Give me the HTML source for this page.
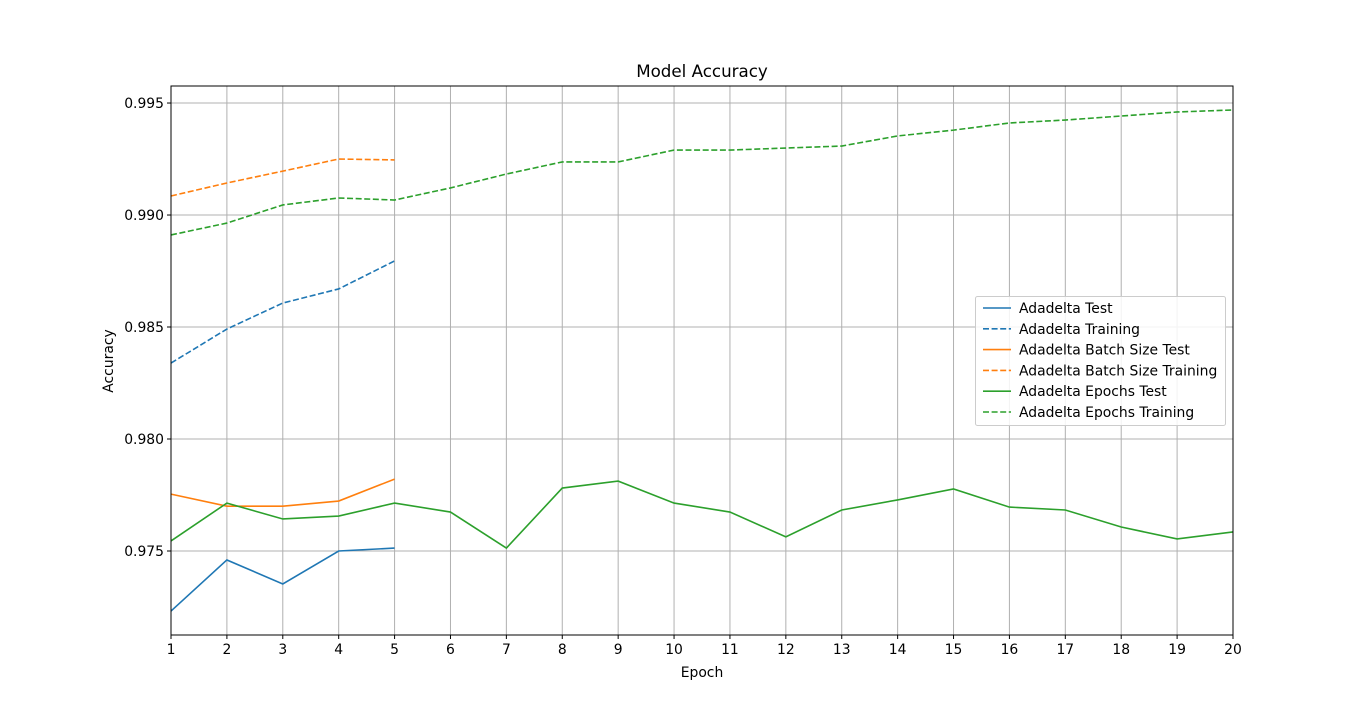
<!DOCTYPE html>
<html><head><meta charset="utf-8"><style>
html,body{margin:0;padding:0;background:#fff;}
svg{display:block;font-family:"DejaVu Sans","Liberation Sans",sans-serif;}
</style></head><body>
<svg id="chart" width="1370" height="715">
<rect x="0" y="0" width="1370" height="715" fill="#fff"/>
<g id="grid"></g>
<g id="series"></g>
<rect x="171" y="86" width="1062" height="549" fill="none" stroke="#000" stroke-width="1"/>
<g id="axes"></g>
<text x="702" y="77" text-anchor="middle" font-size="16.7">Model Accuracy</text>
<text x="702" y="677" text-anchor="middle" font-size="13.9">Epoch</text>
<text x="113" y="361" text-anchor="middle" font-size="13.9" transform="rotate(-90 113 361)">Accuracy</text>
<g id="legend"></g>
</svg>
<script>
const epochs=[1,2,3,4,5,6,7,8,9,10,11,12,13,14,15,16,17,18,19,20];
const yTicks=[0.975,0.980,0.985,0.990,0.995];
const yTickLabels=["0.975","0.980","0.985","0.990","0.995"];
const adadeltaTest=[0.97232,0.97460,0.97353,0.97500,0.97513];
const adadeltaTrain=[0.98339,0.98491,0.98607,0.98670,0.98795];
const batchTest=[0.97754,0.97700,0.97700,0.97723,0.97821];
const batchTrain=[0.99085,0.99143,0.99196,0.99250,0.99246];
const epochsTest=[0.97545,0.97714,0.97643,0.97656,0.97714,0.97674,0.97513,0.97781,0.97812,0.97714,0.97674,0.97563,0.97683,0.97728,0.97777,0.97696,0.97683,0.97607,0.97554,0.97585];
const epochsTrain=[0.98911,0.98964,0.99045,0.99076,0.99067,0.99121,0.99183,0.99237,0.99237,0.99290,0.99290,0.99299,0.99308,0.99353,0.99379,0.99411,0.99424,0.99442,0.99460,0.99469];
const legendLabels=["Adadelta Test","Adadelta Training","Adadelta Batch Size Test","Adadelta Batch Size Training","Adadelta Epochs Test","Adadelta Epochs Training"];

const NS="http://www.w3.org/2000/svg";
const X0=171,X1=1233,Y0=635,Y1=86;
const xMin=1,xMax=20,yMin=0.97125,yMax=0.99576;
function sx(v){return X0+(v-xMin)/(xMax-xMin)*(X1-X0);}
function sy(v){return Y0-(v-yMin)/(yMax-yMin)*(Y0-Y1);}
function mk(tag,attrs,parent){const e=document.createElementNS(NS,tag);for(const k in attrs)e.setAttribute(k,attrs[k]);parent.appendChild(e);return e;}
const grid=document.getElementById('grid'),axes=document.getElementById('axes'),ser=document.getElementById('series'),leg=document.getElementById('legend');
epochs.forEach(function(e){
  const x=sx(e);
  const g=mk('line',{x1:x,x2:x,y1:Y1,y2:Y0,stroke:'#b0b0b0','stroke-width':1},grid);
  
  
  const t=mk('line',{x1:x,x2:x,y1:Y0,y2:Y0+4,stroke:'#000'},axes);
  
  
  const l=mk('text',{x:x,y:Y0+19,'text-anchor':'middle','font-size':13.9},axes);
  l.textContent=String(e);
  
  
});
yTicks.forEach(function(v,i){
  const y=sy(v);
  const g=mk('line',{x1:X0,x2:X1,y1:y,y2:y,stroke:'#b0b0b0','stroke-width':1},grid);
  
  
  const t=mk('line',{x1:X0-4,x2:X0,y1:y,y2:y,stroke:'#000'},axes);
  
  
  const l=mk('text',{x:X0-7,y:y+5,'text-anchor':'end','font-size':13.9},axes);
  l.textContent=yTickLabels[i];
  
  
});
const seriesDefs=[
 [adadeltaTest,'#1f77b4',false,'adadelta-test-line'],
 [adadeltaTrain,'#1f77b4',true,'adadelta-training-line'],
 [batchTest,'#ff7f0e',false,'batch-size-test-line'],
 [batchTrain,'#ff7f0e',true,'batch-size-training-line'],
 [epochsTest,'#2ca02c',false,'epochs-test-line'],
 [epochsTrain,'#2ca02c',true,'epochs-training-line']];
seriesDefs.forEach(function(d){
  const pts=d[0].map(function(v,i){return sx(epochs[i])+','+sy(v);}).join(' ');
  const p=mk('polyline',{points:pts,fill:'none',stroke:d[1],'stroke-width':1.6},ser);
  if(d[2])p.setAttribute('stroke-dasharray','6,2.6');
  
  
});
mk('rect',{x:975.5,y:296.5,width:250,height:129,rx:2,fill:'#fff','fill-opacity':0.85,stroke:'#ccc'},leg);
legendLabels.forEach(function(lab,i){
  const y=308+i*20.8;
  const d=seriesDefs[i];
  const ln=mk('line',{x1:983,x2:1011,y1:y,y2:y,stroke:d[1],'stroke-width':1.6},leg);
  if(d[2])ln.setAttribute('stroke-dasharray','6,2.6');
  
  
  const t=mk('text',{x:1019,y:y+5,'font-size':13.9},leg);
  t.textContent=lab;
  
  
});
</script>
</body></html>
